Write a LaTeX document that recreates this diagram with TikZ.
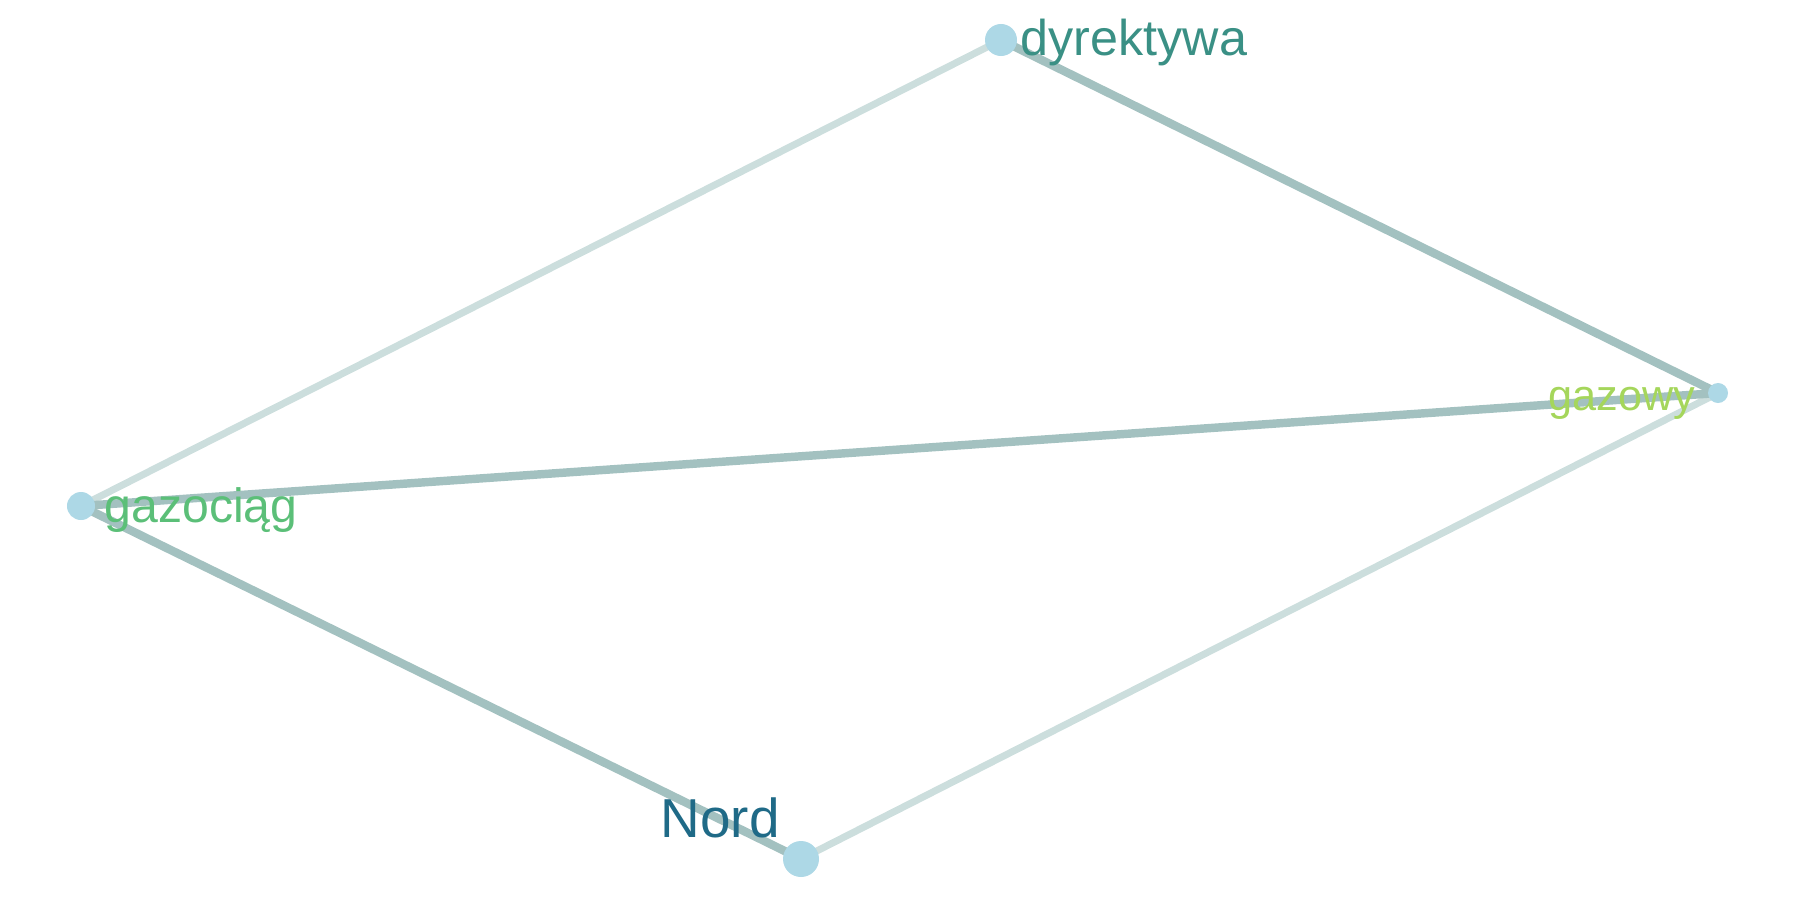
\documentclass[tikz,border=0pt]{standalone}
\usepackage{fontspec}
\setmainfont{Liberation Sans}
\definecolor{edgedark}{HTML}{A3C1C0}
\definecolor{edgelight}{HTML}{CCDEDD}
\definecolor{nodefill}{HTML}{ADD8E6}
\definecolor{cdyr}{HTML}{3A9085}
\definecolor{cgazowy}{HTML}{A5D65B}
\definecolor{cgazociag}{HTML}{5BBF78}
\definecolor{cnord}{HTML}{1F6A87}
\tikzset{
  vert/.style={circle,fill=nodefill,inner sep=0pt,minimum size=#1},
  darkedge/.style={draw=edgedark,line width=2.4pt},
  lightedge/.style={draw=edgelight,line width=2.0pt},
  lbl/.style={anchor=base west,inner sep=0pt}
}
\begin{document}
\begin{tikzpicture}[x=0.01cm,y=-0.01cm]
\useasboundingbox (0,0) rectangle (1800,900);
\coordinate (pd) at (1001,40);
\coordinate (pg) at (1718,393);
\coordinate (pc) at (81,506);
\coordinate (pn) at (801,859);
\draw[lightedge] (pc) -- (pd);
\draw[lightedge] (pn) -- (pg);
\draw[darkedge] (pd) -- (pg);
\draw[darkedge] (pg) -- (pc);
\draw[darkedge] (pc) -- (pn);
\node[vert=0.32cm] (d) at (pd) {};
\node[vert=0.20cm] (g) at (pg) {};
\node[vert=0.28cm] (c) at (pc) {};
\node[vert=0.36cm] (n) at (pn) {};
\node[lbl,text=cdyr,font=\fontsize{14.3pt}{16pt}\selectfont] (ld) at (1020,55) {dyrektywa};
\node[lbl,text=cgazowy,font=\fontsize{12.3pt}{14pt}\selectfont] (lg) at (1548,410) {gazowy};
\node[lbl,text=cgazociag,font=\fontsize{13.7pt}{15pt}\selectfont] (lc) at (104,522) {gazociąg};
\node[lbl,text=cnord,font=\fontsize{15.6pt}{17pt}\selectfont] (ln) at (660,837) {Nord};
\end{tikzpicture}
\end{document}
